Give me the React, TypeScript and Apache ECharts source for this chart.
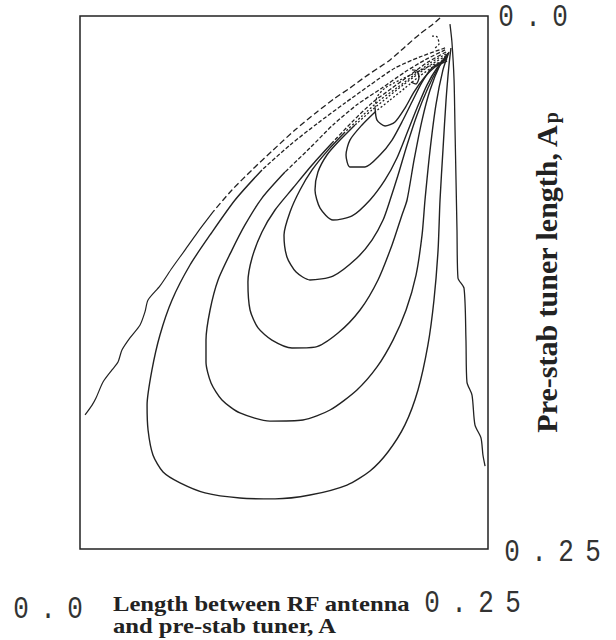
import React, { useEffect, useRef } from "react";
import * as echarts from "echarts";

// Axis tick labels (A along the bottom, Ap along the right side, 0 at the top)
const xTickLabels = ["0.0", "0.25"];
const yTickLabels = ["0.0", "0.25"];
const xTitleLines = ["Length between RF antenna", "and pre-stab tuner, A"];
const yTitleMain = "Pre-stab tuner length, A";
const yTitleSub = "p";

// Contour lines, [A, Ap]
const leftBoundary = [
  [0.2206, 0.0009], [0.2157, 0.0042], [0.2083, 0.0084], [0.1991, 0.0145], [0.19, 0.0206],
  [0.1746, 0.0286], [0.1654, 0.0338], [0.1563, 0.0385], [0.1452, 0.045], [0.1317, 0.0535],
  [0.1183, 0.0629], [0.1054, 0.0722], [0.0931, 0.0816], [0.0815, 0.0919], [0.0717, 0.1018],
  [0.0643, 0.1098], [0.0564, 0.1182], [0.049, 0.1266], [0.0417, 0.1332], [0.0398, 0.1388],
  [0.0368, 0.1449], [0.0306, 0.151], [0.0257, 0.1567], [0.0233, 0.1623], [0.0196, 0.166],
  [0.0141, 0.1717], [0.0098, 0.1792], [0.0074, 0.1825], [0.0031, 0.1871],
];
const rightBoundary = [
  [0.2267, 0.0038], [0.2279, 0.0122], [0.2292, 0.03], [0.2298, 0.0535], [0.2304, 0.0769],
  [0.231, 0.1004], [0.2316, 0.1229], [0.2353, 0.1276], [0.2365, 0.152], [0.2371, 0.1717],
  [0.2402, 0.1778], [0.242, 0.1918], [0.2457, 0.1979], [0.2469, 0.2059], [0.2482, 0.2111],
];
const contourG = [
  [0.2237, 0.015], [0.2083, 0.0192], [0.193, 0.0244], [0.1777, 0.0324], [0.1624, 0.0408],
  [0.1458, 0.0502], [0.1287, 0.0605], [0.1115, 0.0722], [0.095, 0.0863], [0.0797, 0.1027],
  [0.0674, 0.1168], [0.0564, 0.1332], [0.049, 0.1496], [0.0441, 0.166], [0.0411, 0.1825],
  [0.0417, 0.1942], [0.0447, 0.2059], [0.0509, 0.2139], [0.0613, 0.219], [0.0766, 0.2237],
  [0.098, 0.2261], [0.1195, 0.2265], [0.1409, 0.2247], [0.1636, 0.22], [0.1777, 0.2134],
  [0.1887, 0.2045], [0.1991, 0.1918], [0.2071, 0.1754], [0.2132, 0.1543], [0.2169, 0.1332],
  [0.2194, 0.1098], [0.2206, 0.0863], [0.2224, 0.0629], [0.2243, 0.0394], [0.2261, 0.023],
  [0.2273, 0.015],
];
const contourF = [
  [0.2237, 0.0159], [0.2114, 0.0206], [0.1991, 0.0263], [0.185, 0.0338], [0.1703, 0.0413],
  [0.155, 0.0511], [0.1409, 0.0619], [0.1256, 0.0732], [0.1115, 0.0854], [0.1011, 0.098],
  [0.0931, 0.1098], [0.0846, 0.1238], [0.0797, 0.1379], [0.0772, 0.152], [0.0772, 0.1623],
  [0.0803, 0.1721], [0.087, 0.1801], [0.098, 0.1862], [0.1164, 0.19], [0.1366, 0.1895],
  [0.1532, 0.1848], [0.1697, 0.1754], [0.182, 0.1646], [0.1918, 0.152], [0.1998, 0.1379],
  [0.2059, 0.1215], [0.2096, 0.1027], [0.2114, 0.0863], [0.2145, 0.0629], [0.2181, 0.0417],
  [0.2224, 0.0253], [0.2261, 0.0169],
];
const contourE = [
  [0.2243, 0.0169], [0.2132, 0.0216], [0.2022, 0.0277], [0.1912, 0.0338], [0.1789, 0.0408],
  [0.1667, 0.0497], [0.1544, 0.0596], [0.1422, 0.0699], [0.1305, 0.0807], [0.1195, 0.091],
  [0.1115, 0.1013], [0.1054, 0.1135], [0.1029, 0.1248], [0.1042, 0.1379], [0.1091, 0.1463],
  [0.1176, 0.152], [0.1299, 0.1557], [0.144, 0.1553], [0.1581, 0.1487], [0.1716, 0.1379],
  [0.1826, 0.1238], [0.1912, 0.1074], [0.1973, 0.0933], [0.2004, 0.0863], [0.2047, 0.0675],
  [0.2096, 0.0488], [0.2145, 0.0347], [0.2206, 0.023], [0.2255, 0.0174],
];
const contourD = [
  [0.2243, 0.0178], [0.2145, 0.022], [0.2047, 0.0277], [0.1949, 0.0333], [0.1838, 0.0394],
  [0.1728, 0.0469], [0.1624, 0.0544], [0.152, 0.0629], [0.1422, 0.0722], [0.1348, 0.0816],
  [0.1287, 0.0919], [0.125, 0.1027], [0.1268, 0.113], [0.1324, 0.1201], [0.1409, 0.1238],
  [0.155, 0.122], [0.1697, 0.1135], [0.1789, 0.1051], [0.1857, 0.0957], [0.19, 0.0863],
  [0.1949, 0.0746], [0.2004, 0.0605], [0.2065, 0.0464], [0.2132, 0.0338], [0.2194, 0.0244],
  [0.2249, 0.0183],
];
const contourC = [
  [0.2243, 0.0188], [0.2157, 0.0225], [0.2071, 0.0272], [0.1979, 0.0324], [0.1887, 0.038],
  [0.1789, 0.0441], [0.1685, 0.0511], [0.1593, 0.0582], [0.1513, 0.0652], [0.1458, 0.0732],
  [0.144, 0.0816], [0.1471, 0.0901], [0.155, 0.0957], [0.1667, 0.0938], [0.1777, 0.0863],
  [0.1869, 0.0769], [0.1942, 0.0666], [0.2004, 0.0549], [0.2065, 0.0432], [0.2126, 0.0324],
  [0.2188, 0.0244], [0.2249, 0.0192],
];
const contourB = [
  [0.2243, 0.0197], [0.2169, 0.0235], [0.2083, 0.0281], [0.1991, 0.0338], [0.19, 0.0394],
  [0.1808, 0.045], [0.1728, 0.0511], [0.1654, 0.0582], [0.163, 0.0652], [0.1654, 0.0708],
  [0.1746, 0.0708], [0.1838, 0.0652], [0.1912, 0.0582], [0.1979, 0.0488], [0.204, 0.0394],
  [0.2096, 0.031], [0.2157, 0.0244], [0.2249, 0.0202],
];
const contourA = [
  [0.2243, 0.0206], [0.2145, 0.0235], [0.2053, 0.0267], [0.1961, 0.03], [0.1869, 0.0338],
  [0.182, 0.038], [0.1808, 0.0432], [0.182, 0.0488], [0.1869, 0.0516], [0.193, 0.0497],
  [0.1991, 0.0432], [0.2047, 0.0356], [0.2108, 0.0291], [0.2175, 0.0239], [0.2249, 0.0211],
];
// small closed islands inside the dense top-right cluster
const islandA = [
  [0.2034, 0.0253], [0.2065, 0.0258], [0.2077, 0.029], [0.2059, 0.0319], [0.2028, 0.031],
];
const islandB = [
  [0.2157, 0.0094], [0.2188, 0.0098], [0.22, 0.0131], [0.2175, 0.015],
];

const loops = [contourG, contourF, contourE, contourD, contourC, contourB, contourA];
// Ap down to which each loop's left arm is broken up (scan / plotter artefact)
const brokenUntil = [0.065, 0.062, 0.058, 0.05, 0.046, 0.044, 0.04];

const GRID = { left: 80, top: 16, width: 408, height: 533 };
const INK = "#222";
const SERIF = "Liberation Serif, Times New Roman, serif";

function spacedChars(label: string, x0: number, y: number, step: number) {
  return label.split("").map((ch, i) => ({
    type: "text",
    x: x0 + i * step,
    y,
    scaleY: 1.2,
    style: {
      text: ch,
      fontFamily: "Liberation Mono, DejaVu Sans Mono, monospace",
      fontSize: 26,
      fill: "#333",
      align: "center",
      verticalAlign: "middle",
    },
  }));
}

function lineSeries(data: number[][], width: number, type: any) {
  return {
    type: "line",
    data,
    showSymbol: false,
    symbol: "none",
    smooth: 0.25,
    silent: true,
    lineStyle: { color: INK, width, type },
  };
}

// split a curve where its left arm leaves the dense, broken-up region near the top
function splitAt(curve: number[][], apLimit: number) {
  let k = curve.findIndex((p) => p[1] >= apLimit);
  if (k < 1) k = 1;
  return [curve.slice(0, k + 1), curve.slice(k)];
}

export default function App() {
  const ref = useRef<HTMLDivElement>(null);
  useEffect(() => {
    if (!ref.current) return;
    const chart = echarts.init(ref.current, undefined, { renderer: "svg" });
    const series: any[] = [];
    const [lTop, lBottom] = splitAt(leftBoundary, 0.09);
    series.push(lineSeries(lTop, 1.3, [6, 3]));
    series.push(lineSeries(lBottom, 1.2, "solid"));
    series.push(lineSeries(rightBoundary, 1.3, "solid"));
    loops.forEach((c, i) => {
      const [top, rest] = splitAt(c, brokenUntil[i]);
      series.push(lineSeries(top, 1.3, i < 3 ? [4, 2] : [2, 2]));
      series.push(lineSeries(rest, 1.4, "solid"));
    });
    series.push(lineSeries(islandA, 1.3, "solid"));
    series.push(lineSeries(islandB, 1.3, [2, 2]));

    const graphics: any[] = [
      ...spacedChars(yTickLabels[0], 506, 18, 27),
      ...spacedChars(yTickLabels[1], 512, 553, 27),
      ...spacedChars(xTickLabels[0], 21, 610, 27),
      ...spacedChars(xTickLabels[1], 432, 604, 27),
      ...xTitleLines.map((t, i) => ({
        type: "text",
        x: 113,
        y: 603 + i * 22,
        scaleX: 1.12,
        style: {
          text: t,
          fontFamily: SERIF,
          fontWeight: "bold",
          fontSize: 22,
          fill: "#222",
          align: "left",
          verticalAlign: "middle",
        },
      })),
      {
        type: "text",
        x: 546,
        y: 273,
        rotation: Math.PI / 2,
        style: {
          text: `{m|${yTitleMain}}{s|${yTitleSub}}`,
          align: "center",
          verticalAlign: "middle",
          fill: "#222",
          rich: {
            m: { fontFamily: SERIF, fontWeight: "bold", fontSize: 30, fill: "#222" },
            s: {
              fontFamily: SERIF,
              fontWeight: "bold",
              fontSize: 20,
              fill: "#222",
              verticalAlign: "bottom",
              padding: [10, 0, 0, 1],
            },
          },
        },
      },
    ];
    chart.setOption({
      animation: false,
      backgroundColor: "#fff",
      grid: { ...GRID, show: true, borderColor: INK, borderWidth: 1.5, backgroundColor: "transparent" },
      xAxis: {
        type: "value", min: 0, max: 0.25,
        axisLine: { show: false }, axisTick: { show: false }, axisLabel: { show: false }, splitLine: { show: false },
      },
      yAxis: {
        type: "value", min: 0, max: 0.25, inverse: true,
        axisLine: { show: false }, axisTick: { show: false }, axisLabel: { show: false }, splitLine: { show: false },
      },
      series,
      graphic: graphics,
    });
    return () => chart.dispose();
  }, []);
  return <div ref={ref} style={{ position: "fixed", left: 0, top: 0, width: 616, height: 640 }} />;
}
